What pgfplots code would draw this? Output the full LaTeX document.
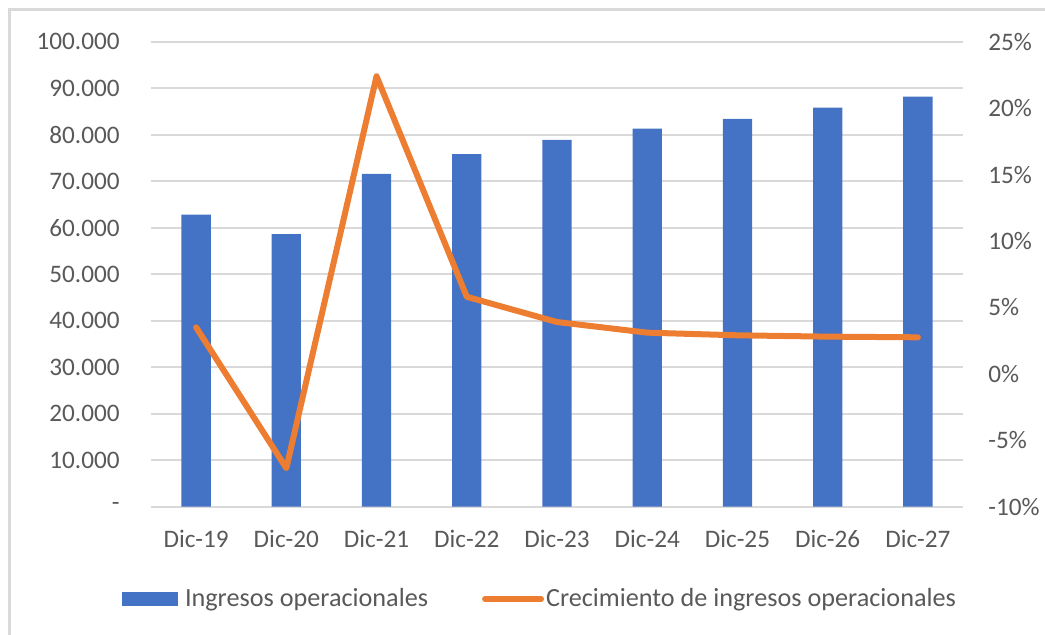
\documentclass[border=0pt]{standalone}
\usepackage{pgfplots}
\usepackage{pgfplotstable}
\pgfplotsset{compat=1.18}
\usepackage{fontspec}
\setmainfont{Carlito}
\definecolor{barblue}{RGB}{68,114,196}
\definecolor{lineorange}{RGB}{237,125,49}
\definecolor{gridgray}{RGB}{217,217,217}
\definecolor{txtgray}{RGB}{89,89,89}

\pgfplotstableread{
x ing crec
0 62800 3.5
1 58600 -7.1
2 71600 22.4
3 75800 5.8
4 78900 3.9
5 81300 3.1
6 83400 2.9
7 85800 2.8
8 88200 2.75
}\datatable

\pgfplotsset{
  myaxis/.style={
    at={(75.5pt,-253.35pt)}, anchor=south west,
    scale only axis, width=406pt, height=232.5pt,
    xmin=-0.5, xmax=8.5,
    axis line style={draw=none},
    major tick length=0pt,
    tick label style={font=\fontsize{12.6}{14}\selectfont, text=txtgray},
    /pgf/number format/assume math mode=true,
  }
}

\begin{document}
\begin{tikzpicture}
\useasboundingbox (0,0) rectangle (522.5pt,-317.5pt);
\draw[gridgray, line width=1.3pt] (4.7pt,-318pt) -- (4.7pt,-4.7pt) -- (523pt,-4.7pt);

\begin{axis}[myaxis,
  ybar, bar width=14.65pt,
  ymin=0, ymax=100000,
  ytick={0,10000,...,100000},
  yticklabels={-,10.000,20.000,30.000,40.000,50.000,60.000,70.000,80.000,90.000,100.000},
  ymajorgrids, grid style={gridgray, line width=1pt},
  xtick={0,...,8},
  xticklabels={Dic-19,Dic-20,Dic-21,Dic-22,Dic-23,Dic-24,Dic-25,Dic-26,Dic-27},
  yticklabel style={anchor=east, inner sep=0pt, xshift=-15.5pt},
  xticklabel style={anchor=north, inner sep=0pt, yshift=-11.5pt},
  scaled y ticks=false,
]
\addplot[fill=barblue, draw=none] table[x=x, y=ing]{\datatable};
\end{axis}

\begin{axis}[myaxis,
  ymin=-10, ymax=25,
  axis y line*=right,
  axis x line*=bottom,
  xtick=\empty,
  ytick={-10,-5,0,5,10,15,20,25},
  yticklabels={-10\%,-5\%,0\%,5\%,10\%,15\%,20\%,25\%},
  yticklabel style={anchor=west, inner sep=0pt, xshift=12.5pt},
  legend style={at={(0.479,-0.1985)}, anchor=center, draw=none, fill=none,
    legend columns=2, font=\fontsize{13.1}{15}\selectfont, text=txtgray,
    nodes={inner sep=1pt},
    /tikz/every even column/.append style={column sep=26pt}},
]
\addlegendimage{legend image code/.code={\fill[barblue, draw=none] (0pt,-3.5pt) rectangle (28pt,3.5pt); \path[draw=none, fill=none] (0pt,0pt) -- (30.5pt,0pt);}}
\addlegendentry{Ingresos operacionales}
\addplot[lineorange, line width=3pt, line cap=round, line join=round,
  legend image code/.code={\draw[lineorange, line width=3pt, line cap=round] (1.5pt,0pt) -- (29.5pt,0pt); \path[draw=none, fill=none] (0pt,0pt) -- (31pt,0pt);}]
  table[x=x, y=crec]{\datatable};
\addlegendentry{Crecimiento de ingresos operacionales}
\end{axis}
\end{tikzpicture}
\end{document}
